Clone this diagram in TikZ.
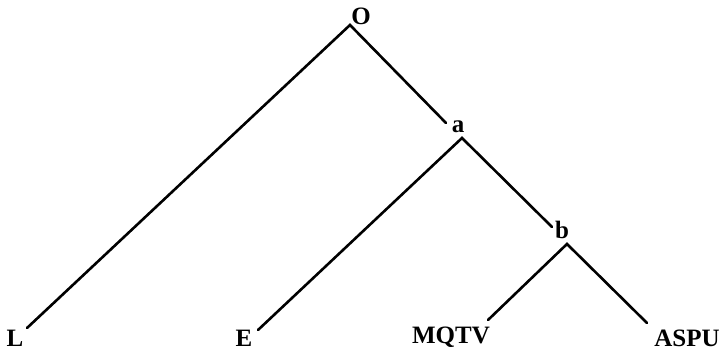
\documentclass[tikz,border=0pt]{standalone}
\usepackage{fontspec}
\setmainfont{Liberation Serif}
\begin{document}
\begin{tikzpicture}[x=1pt,y=-1pt,
  lbl/.style={font=\fontsize{25}{28}\selectfont\bfseries,inner sep=0pt,anchor=base},
  edge/.style={line width=2.6pt,line cap=round}]
\useasboundingbox (0,0) rectangle (722,350);
% labels
\node[lbl] (O) at (361,25) {O};
\node[lbl] (a) at (458,132) {a};
\node[lbl] (b) at (562,238) {b};
\node[lbl] (L) at (15,346) {L};
\node[lbl] (E) at (244,346) {E};
\node[lbl] (M) at (451,343) {MQTV};
\node[lbl] (A) at (687,346) {ASPU};
% junction / end points
\coordinate (Oj) at (350,25);
\coordinate (ain) at (446,123);
\coordinate (aj) at (462,138);
\coordinate (bin) at (552,227);
\coordinate (bj) at (567,244);
\coordinate (Le) at (27,328);
\coordinate (Ee) at (258,330);
\coordinate (Me) at (488,320);
\coordinate (Ae) at (647,323);
% edges
\draw[edge] (Le) -- (Oj) -- (ain);
\draw[edge] (Ee) -- (aj) -- (bin);
\draw[edge] (Me) -- (bj) -- (Ae);
\end{tikzpicture}
\end{document}
